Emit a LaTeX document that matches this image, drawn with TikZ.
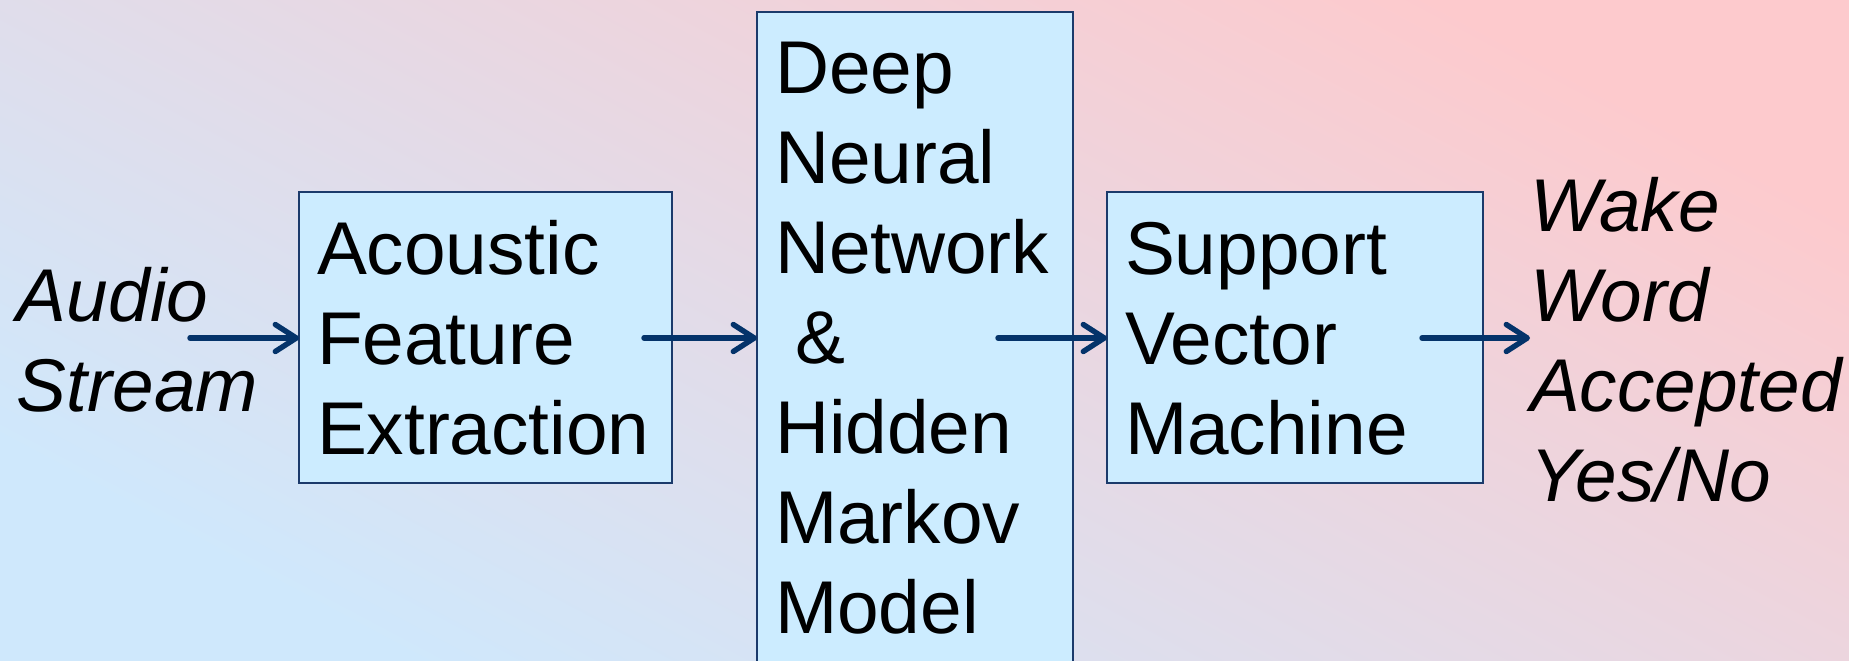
\documentclass[tikz,border=0pt]{standalone}
\usepackage{fontspec}
\setmainfont{Liberation Sans}
\usetikzlibrary{arrows.meta}

\definecolor{bgblue}{RGB}{207,232,252}
\definecolor{bgpink}{RGB}{253,202,205}
\definecolor{boxfill}{HTML}{CCECFF}
\definecolor{boxline}{HTML}{1B3A6B}
\definecolor{flowblue}{HTML}{04336A}

\newcommand\stagefont{\fontsize{37.4pt}{45pt}\selectfont}

\tikzset{
  stage/.style={draw=boxline, line width=1pt, fill=boxfill, rectangle,
    inner xsep=9pt, inner ysep=0pt, outer sep=0pt, anchor=north west,
    align=left, font=\stagefont},
  iolabel/.style={inner sep=0pt, outer sep=0pt, anchor=north west,
    align=left, text height=0pt, text depth=0pt,
    font=\stagefont\itshape},
  flow/.style={draw=flowblue, line width=2.7pt, line cap=round,
    -{Straight Barb[length=10.5pt, width=13.5pt, line cap=round, line join=round]}},
}

\begin{document}
\begin{tikzpicture}
  % page frame and diagonal background wash
  \useasboundingbox (0,0) rectangle (924.5pt,-330pt);
  \shade[bottom color=bgblue, top color=bgpink, shading angle=-28]
    (0,0) rectangle (924.5pt,-330pt);

  % input and output labels
  \node[iolabel, text width=100pt] (audio) at (8.5pt,-160pt) {Audio\\Stream};
  \node[iolabel, text width=160pt] (result) at (765pt,-115pt)
    {Wake\\Word\\Accepted\\Yes/No};

  % processing stages
  \node[stage, text width=168.5pt, text height=41pt, text depth=104.5pt]
    (feat) at (149.5pt,-96pt) {Acoustic\\Feature\\Extraction};
  \node[stage, text width=140pt, text height=40.5pt, text depth=298.5pt]
    (dnn) at (378.5pt,-6pt)
    {Deep\\Neural\\Network\\\hspace*{10.4pt}\&\\Hidden\\Markov\\Model};
  \node[stage, text width=170pt, text height=41pt, text depth=104.5pt]
    (svm) at (553.5pt,-96pt) {Support\\Vector\\Machine};

  % signal flow
  \coordinate (s1) at (95pt,-169pt);
  \coordinate (s2) at (322pt,-169pt);
  \coordinate (s3) at (499pt,-169pt);
  \coordinate (s4) at (711pt,-169pt);
  \coordinate (e4) at (765pt,-169pt);
  \draw[flow] (s1) -- (s1 -| feat.west);
  \draw[flow] (s2) -- (s2 -| dnn.west);
  \draw[flow] (s3) -- (s3 -| svm.west);
  \draw[flow] (s4) -- (e4);
\end{tikzpicture}
\end{document}
